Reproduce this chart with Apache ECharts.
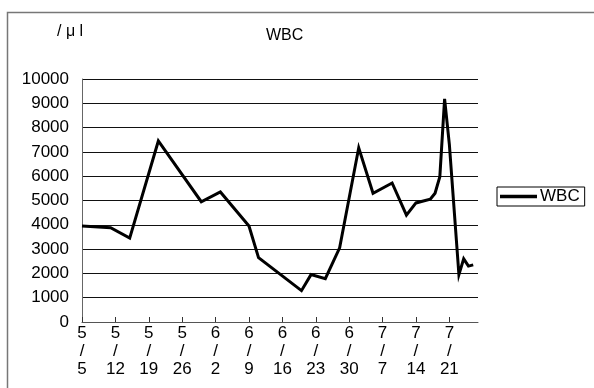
<!DOCTYPE html>
<html>
<head>
<meta charset="utf-8">
<script src="https://cdn.jsdelivr.net/npm/echarts@6/dist/echarts.min.js"></script>
<style>
html,body{margin:0;padding:0;background:#fff;}
#chart{width:594px;height:388px;}
</style>
</head>
<body>
<div id="chart"></div>
<script>
// Data (date M/D, WBC per µl)
var dates = ['5/5','5/11','5/15','5/21','5/30','6/3','6/9','6/11','6/20','6/22','6/25','6/28',
             '7/2','7/5','7/9','7/12','7/14','7/17','7/18','7/19','7/20','7/21','7/23','7/24','7/25','7/26'];
var wbc = [3950,3880,3450,7450,4950,5350,3950,2650,1290,1950,1780,3050,
           7170,5300,5720,4400,4900,5050,5300,5980,9180,7300,1950,2600,2300,2350];
var tickDates = ['5/5','5/12','5/19','5/26','6/2','6/9','6/16','6/23','6/30','7/7','7/14','7/21'];
var axisStart = '5/5';
var axisEnd = '7/27';
var yTicks = [0,1000,2000,3000,4000,5000,6000,7000,8000,9000,10000];
var seriesName = 'WBC';
var titleText = 'WBC';
var unitText = '/ μ l';

function dayNum(s) {
  var p = s.split('/');
  return Date.UTC(2000, +p[0] - 1, +p[1]) / 86400000;
}
var base = dayNum(axisStart);
function toDay(s) { return dayNum(s) - base; }
function dayLabel(v) {
  var d = new Date((v + base) * 86400000);
  return (d.getUTCMonth() + 1) + '\n/\n' + d.getUTCDate();
}

var points = dates.map(function (d, i) { return [toDay(d), wbc[i]]; });
var tickVals = tickDates.map(toDay);

var FONT = 'Liberation Sans, Arial, sans-serif';
var chart = echarts.init(document.getElementById('chart'), null, {renderer: 'canvas'});
chart.setOption({
  animation: false,
  backgroundColor: '#fff',
  title: {
    text: titleText, left: 266, top: 28, padding: 0,
    textStyle: {fontFamily: FONT, fontSize: 16, fontWeight: 'normal', color: '#000'}
  },
  legend: {
    left: 497, top: 187, orient: 'vertical',
    padding: [1, 5, 1, 3],
    borderColor: '#000', borderWidth: 1,
    itemWidth: 37, itemHeight: 16, itemGap: 0,
    textStyle: {fontFamily: FONT, fontSize: 17, color: '#000', padding: [0, 0, 0, -2]},
    data: [{name: seriesName, icon: 'path://M0,0H10V1H0Z'}],
    itemStyle: {color: '#000'}
  },
  graphic: [
    {type: 'rect', silent: true, shape: {x: 7.5, y: 12.5, width: 700, height: 500},
     style: {fill: 'none', stroke: '#777', lineWidth: 1.5}},
    {type: 'text', left: 57, top: 24, silent: true,
     style: {text: unitText, font: '16px ' + FONT, fill: '#000'}}
  ],
  grid: {left: 82, right: 116, top: 79, bottom: 66, containLabel: false},
  xAxis: {
    type: 'value', min: toDay(axisStart), max: toDay(axisEnd),
    splitLine: {show: false},
    axisLine: {show: true, lineStyle: {color: '#555', width: 1}},
    axisTick: {show: true, inside: true, length: 5, customValues: tickVals,
               lineStyle: {color: '#333', width: 1}},
    axisLabel: {show: true, customValues: tickVals, formatter: dayLabel, margin: 2,
                fontFamily: FONT, fontSize: 17, lineHeight: 18, color: '#000'}
  },
  yAxis: {
    type: 'value', min: yTicks[0], max: yTicks[yTicks.length - 1], interval: 1000,
    axisLine: {show: true, lineStyle: {color: '#666', width: 1}},
    axisTick: {show: false},
    splitLine: {show: true, lineStyle: {color: '#111', width: 1}},
    axisLabel: {margin: 13, fontFamily: FONT, fontSize: 17, color: '#000',
                formatter: function (v) { return String(v); }}
  },
  series: [{
    name: seriesName, type: 'line', data: points,
    symbol: 'none', smooth: false,
    lineStyle: {color: '#000', width: 3, join: 'miter'},
    itemStyle: {color: '#000'}
  }]
});
</script>
</body>
</html>
